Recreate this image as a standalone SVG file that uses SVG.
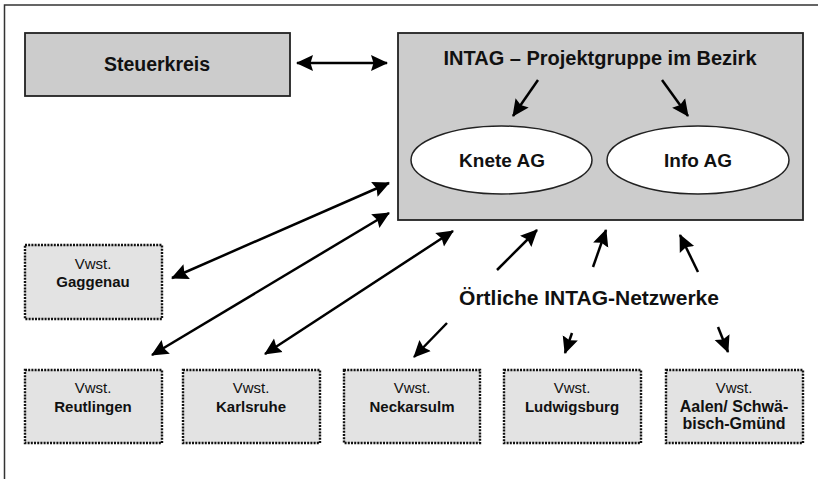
<svg xmlns="http://www.w3.org/2000/svg" width="818" height="479" viewBox="0 0 818 479">
<defs>
<marker id="ah" markerUnits="userSpaceOnUse" markerWidth="18" markerHeight="18" viewBox="0 0 18 18" refX="16" refY="9" orient="auto-start-reverse">
<path d="M0,1 L17,9 L0,17 L2.5,9 z" fill="#000"/>
</marker>
<style>
.frame{fill:#fff;stroke:#333;stroke-width:1.5}
.grey{fill:#cccccc;stroke:#222;stroke-width:1.8}
.ell{fill:#fff;stroke:#222;stroke-width:1.5}
.vw{fill:#e3e3e3;stroke:#111;stroke-width:2.4;stroke-dasharray:2 1.2}
.t{font-family:"Liberation Sans",Arial,sans-serif;text-anchor:middle;fill:#111}
.b{font-weight:bold}
.con line{stroke:#000;stroke-width:2.5;fill:none}
</style>
</defs>
<rect x="0" y="0" width="818" height="479" fill="#fff"/>
<rect class="frame" x="4.5" y="5" width="830" height="490"/>
<g id="steuerkreis">
<rect class="grey" x="25" y="33" width="265" height="63"/>
<text class="t b" x="157" y="71" font-size="19.5">Steuerkreis</text>
</g>
<g id="intag">
<rect class="grey" x="398" y="33" width="405" height="187"/>
<text class="t b" x="600" y="65" font-size="20">INTAG – Projektgruppe im Bezirk</text>
</g>
<g id="knete">
<ellipse class="ell" cx="501.5" cy="160" rx="90.5" ry="34"/>
<text class="t b" x="502" y="166.5" font-size="19">Knete AG</text>
</g>
<g id="info">
<ellipse class="ell" cx="698" cy="160" rx="91" ry="34"/>
<text class="t b" x="698" y="166.5" font-size="19">Info AG</text>
</g>
<g id="netzwerke">
<text class="t b" x="589" y="305" font-size="21">Örtliche INTAG-Netzwerke</text>
</g>
<g id="gaggenau">
<rect class="vw" x="25" y="245" width="137" height="74"/>
<text class="t" x="93" y="269" font-size="15">Vwst.</text>
<text class="t b" x="93" y="287" font-size="15">Gaggenau</text>
</g>
<g id="reutlingen">
<rect class="vw" x="25" y="370" width="137" height="73"/>
<text class="t" x="93" y="393" font-size="15">Vwst.</text>
<text class="t b" x="93" y="412" font-size="15">Reutlingen</text>
</g>
<g id="karlsruhe">
<rect class="vw" x="183" y="370" width="137" height="73"/>
<text class="t" x="251" y="393" font-size="15">Vwst.</text>
<text class="t b" x="251" y="412" font-size="15">Karlsruhe</text>
</g>
<g id="neckarsulm">
<rect class="vw" x="344" y="370" width="136" height="73"/>
<text class="t" x="412" y="393" font-size="15">Vwst.</text>
<text class="t b" x="412" y="412" font-size="15">Neckarsulm</text>
</g>
<g id="ludwigsburg">
<rect class="vw" x="504" y="370" width="137" height="73"/>
<text class="t" x="572" y="393" font-size="15">Vwst.</text>
<text class="t b" x="572" y="412" font-size="15">Ludwigsburg</text>
</g>
<g id="aalen">
<rect class="vw" x="666" y="370" width="137" height="73"/>
<text class="t" x="734" y="393" font-size="15">Vwst.</text>
<text class="t b" x="734" y="412" font-size="16">Aalen/ Schwä-</text>
<text class="t b" x="734" y="429" font-size="16">bisch-Gmünd</text>
</g>
<g id="connectors" class="con">
<line x1="297" y1="63" x2="387" y2="63" marker-start="url(#ah)" marker-end="url(#ah)"/>
<line x1="172" y1="278" x2="389" y2="183" marker-start="url(#ah)" marker-end="url(#ah)"/>
<line x1="152" y1="355" x2="389" y2="213" marker-start="url(#ah)" marker-end="url(#ah)"/>
<line x1="265" y1="354" x2="453" y2="231" marker-start="url(#ah)" marker-end="url(#ah)"/>
<line x1="538" y1="80" x2="513" y2="116" marker-end="url(#ah)"/>
<line x1="662" y1="80" x2="688" y2="116" marker-end="url(#ah)"/>
<line x1="497" y1="270" x2="537" y2="230" marker-end="url(#ah)"/>
<line x1="593" y1="267" x2="606" y2="230" marker-end="url(#ah)"/>
<line x1="698" y1="272" x2="680" y2="235" marker-end="url(#ah)"/>
<line x1="447" y1="323" x2="414" y2="357" marker-end="url(#ah)"/>
<line x1="572" y1="333" x2="565" y2="353" marker-end="url(#ah)"/>
<line x1="718" y1="327" x2="728" y2="352" marker-end="url(#ah)"/>
</g>
</svg>
